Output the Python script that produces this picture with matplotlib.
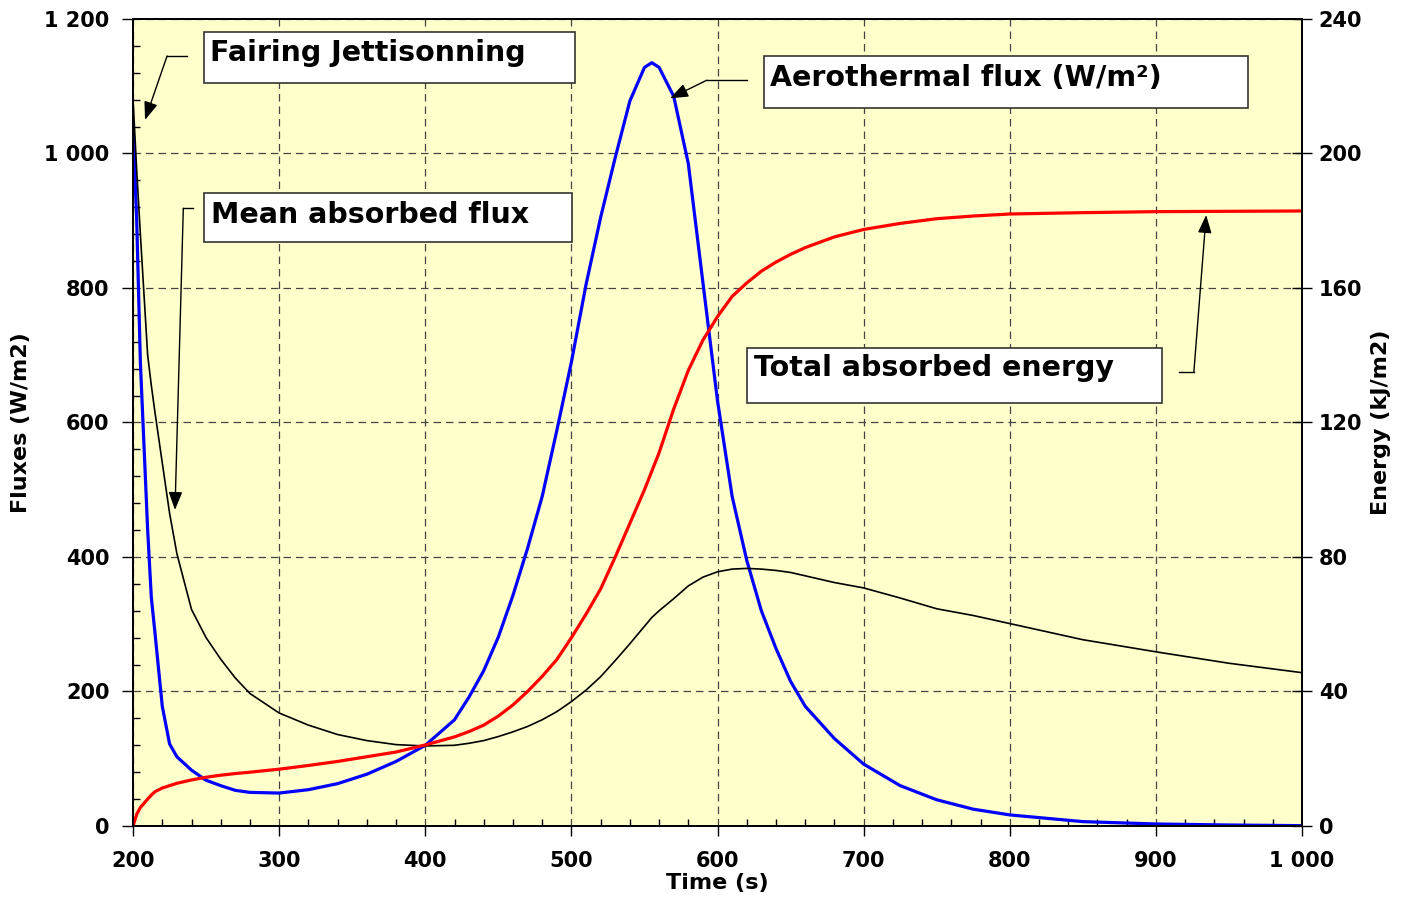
import matplotlib
matplotlib.use('Agg')
import matplotlib.pyplot as plt
from matplotlib.patches import Rectangle
from matplotlib.ticker import MultipleLocator

# 数据
time_s = [200, 202.5, 205, 210, 212.5, 215, 220, 225, 230, 240, 250, 260, 270, 280,
          300, 320, 340, 360, 380, 400, 420, 430, 440, 450, 460, 470, 480, 490, 500, 510, 520, 530,
          540, 550, 555, 560, 570, 580, 590, 600, 610, 620, 630, 640, 650, 660, 680,
          700, 725, 750, 775, 800, 850, 900, 950, 1000]
aero_flux = [1040, 900, 690, 440, 340, 287, 178, 122, 103, 83, 68, 60, 53, 50,
             49, 54, 63, 77, 96, 120, 158, 192, 231, 281, 343, 413, 490, 588, 690, 805, 905, 994,
             1078, 1128, 1135, 1128, 1085, 985, 808, 632, 490, 395, 320, 264, 215, 178, 130,
             92, 60, 39, 25, 16.5, 6.5, 3, 1.5, 0.5]
mean_flux = [1080, 975, 880, 700, 655, 615, 540, 465, 405, 322, 280, 248, 220, 197,
             168, 150, 136, 127, 121, 119, 120, 123, 127, 133, 140, 148, 158, 170, 185, 202, 222, 246,
             271, 297, 310, 320, 338, 357, 370, 378, 382, 383, 382, 380, 377, 372, 362,
             354, 339, 323, 313, 301, 277, 259, 242, 228]
energy = [0, 3.5, 5.5, 8, 9.2, 10.2, 11.3, 12, 12.7, 13.7, 14.5, 15.1, 15.6, 16.0,
          16.9, 18.0, 19.2, 20.6, 22, 24.1, 26.5, 28.1, 30, 32.7, 36, 40, 44.5, 49.5, 56, 63, 70.5, 80,
          90, 100, 105.5, 111, 124, 135.5, 144.5, 151.5, 157.5, 161.5, 165, 167.7, 170, 172, 175.2,
          177.4, 179.2, 180.6, 181.4, 182, 182.4, 182.7, 182.8, 182.9]

x_ticks = [200, 300, 400, 500, 600, 700, 800, 900, 1000]
x_labels = ['200', '300', '400', '500', '600', '700', '800', '900', '1 000']
y_ticks = [0, 200, 400, 600, 800, 1000, 1200]
y_labels = ['0', '200', '400', '600', '800', '1 000', '1 200']
y2_ticks = [0, 40, 80, 120, 160, 200, 240]
y2_labels = ['0', '40', '80', '120', '160', '200', '240']

plt.rcParams['font.family'] = ['DejaVu Sans']
plt.rcParams['font.weight'] = 'bold'

fig = plt.figure(figsize=(14.05, 8.99), dpi=100)
ax = fig.add_axes([0.0947, 0.0812, 0.8320, 0.8977])
ax2 = ax.twinx()

ax.set_facecolor('#FFFFCC')
ax.plot(time_s, aero_flux, color='#0000FF', lw=2.3)
ax.plot(time_s, mean_flux, color='black', lw=1.2)
ax2.plot(time_s, energy, color='#FF0000', lw=2.3)

ax.set_xlim(200, 1000)
ax.set_ylim(0, 1200)
ax2.set_ylim(0, 240)

ax.set_xticks(x_ticks)
ax.set_xticklabels(x_labels)
ax.set_yticks(y_ticks)
ax.set_yticklabels(y_labels)
ax2.set_yticks(y2_ticks)
ax2.set_yticklabels(y2_labels)
ax.xaxis.set_minor_locator(MultipleLocator(20))
ax.yaxis.set_minor_locator(MultipleLocator(40))

ax.tick_params(axis='x', which='major', direction='out', length=7, width=1, pad=11, labelsize=15)
ax.tick_params(axis='x', which='minor', direction='in', length=5, width=1)
ax.tick_params(axis='y', which='major', direction='out', length=8, width=1, pad=9, labelsize=15)
ax.tick_params(axis='y', which='minor', direction='in', length=5, width=1)
ax2.tick_params(axis='y', which='major', direction='inout', length=14, width=1, pad=5, labelsize=15)

ax.grid(True, which='major', color='#444444', linestyle=(0, (6, 4)), lw=0.9)
for a in (ax, ax2):
    for sp in a.spines.values():
        sp.set_linewidth(1.3)

ax.set_xlabel('Time (s)', fontsize=16, fontweight='bold')
ax.xaxis.set_label_coords(0.5, -0.058)
ax.set_ylabel('Fluxes (W/m2)', fontsize=16, fontweight='bold')
ax.yaxis.set_label_coords(-0.087, 0.5)
ax2.set_ylabel('Energy (kJ/m2)', fontsize=16, fontweight='bold')
ax2.yaxis.set_label_coords(1.059, 0.5)

# 标注框
boxes = [
    ('Fairing Jettisonning', 248.6, 1104.8, 253.9, 75.9, 252.5, 1149),
    ('Mean absorbed flux', 248.6, 868.4, 251.9, 72.9, 253.3, 909),
    ('Aerothermal flux (W/m²)', 631.9, 1067.6, 331.3, 77.4, 636, 1112),
    ('Total absorbed energy', 620.3, 629.0, 284.0, 81.8, 625, 681),
]
for txt, x0, y0, w, h, tx, ty in boxes:
    ax2.add_patch(Rectangle((x0, y0), w, h, transform=ax.transData, facecolor='white',
                            edgecolor='#333333', lw=1.2, clip_on=False, zorder=5))
    ax2.text(tx, ty, txt, transform=ax.transData, fontsize=20.5, fontweight='bold',
             va='center', ha='left', zorder=6)

# 箭头
leaders = [
    ([237, 223.3], [1145, 1145], (208.2, 1050)),
    ([241.2, 234.4], [918.5, 918.5], (228.7, 470)),
    ([620, 592.7], [1109, 1109], (567.5, 1082)),
    ([915.5, 926], [675.5, 675.5], (934.4, 908.5)),
]
for xs, ys, tip in leaders:
    ax2.plot(xs, ys, color='black', lw=1, transform=ax.transData, zorder=6)
    ax2.annotate('', xy=tip, xycoords=ax.transData, xytext=(xs[-1], ys[-1]),
                 textcoords=ax.transData,
                 arrowprops=dict(arrowstyle='-|>,head_length=1.1,head_width=0.42',
                                 color='black', lw=1, shrinkA=0, shrinkB=0), zorder=6)

plt.savefig('out.png', dpi=100)
